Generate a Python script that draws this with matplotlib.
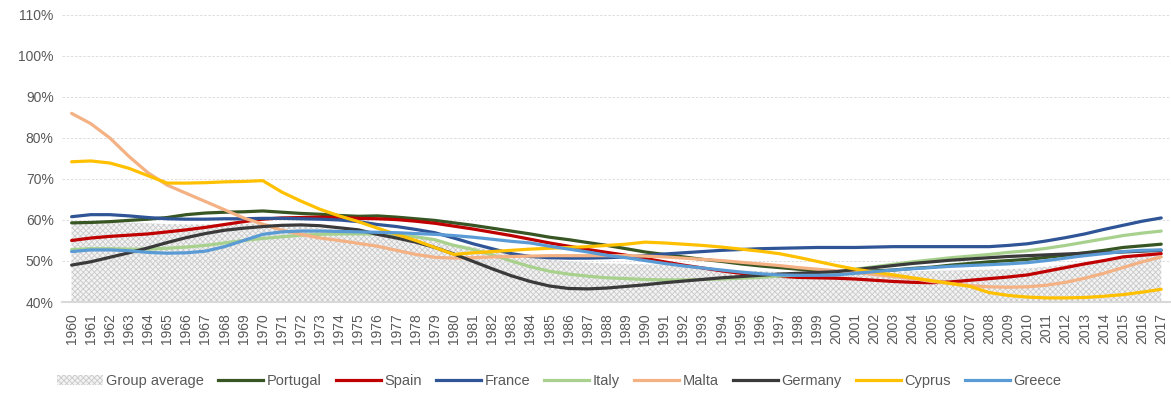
import matplotlib
matplotlib.use("Agg")
import matplotlib.pyplot as plt
from matplotlib.patches import Patch
from matplotlib.lines import Line2D
from matplotlib.ticker import FuncFormatter

plt.rcParams['font.family'] = ['Liberation Sans', 'DejaVu Sans']
plt.rcParams['hatch.linewidth'] = 0.6

years = list(range(1960, 2018))

group_average = [59.5, 59.6, 59.6, 59.4, 59.2, 59.0, 58.9, 58.9, 59.0, 59.1,
                 59.2, 58.8, 58.4, 58.0, 57.6, 57.2, 56.8, 56.3, 55.7, 55.0,
                 54.2, 53.4, 52.6, 51.8, 51.0, 50.4, 49.9, 49.6, 49.4, 49.3,
                 49.2, 49.0, 48.7, 48.4, 48.0, 47.7, 47.5, 47.3, 47.2, 47.1,
                 47.1, 47.2, 47.3, 47.4, 47.5, 47.6, 47.7, 47.8, 47.9, 48.0,
                 48.2, 48.6, 49.1, 49.7, 50.3, 50.9, 51.4, 51.8]

portugal = [59.3, 59.4, 59.6, 59.9, 60.2, 60.6, 61.3, 61.7, 61.9, 62.0,
            62.2, 61.9, 61.6, 61.4, 61.1, 60.9, 61.0, 60.7, 60.3, 59.9,
            59.3, 58.7, 58.0, 57.3, 56.6, 55.8, 55.2, 54.5, 53.8, 53.0,
            52.2, 51.6, 51.0, 50.4, 49.9, 49.3, 48.8, 48.4, 48.0, 47.6,
            47.4, 47.4, 47.6, 47.8, 48.2, 48.5, 49.0, 49.4, 49.8, 50.1,
            50.4, 50.9, 51.4, 52.0, 52.6, 53.3, 53.7, 54.1]

spain = [55.0, 55.6, 56.0, 56.3, 56.6, 57.1, 57.6, 58.2, 58.9, 59.6,
         60.2, 60.5, 60.6, 60.7, 60.6, 60.4, 60.3, 60.1, 59.7, 59.2,
         58.5, 57.8, 57.0, 56.2, 55.3, 54.4, 53.6, 52.8, 52.1, 51.4,
         50.6, 49.8, 49.0, 48.3, 47.6, 47.0, 46.6, 46.3, 46.0, 45.9,
         45.8, 45.6, 45.3, 45.0, 44.8, 44.7, 44.9, 45.3, 45.7, 46.1,
         46.6, 47.5, 48.4, 49.3, 50.1, 51.0, 51.4, 51.8]

france = [60.8, 61.3, 61.3, 61.0, 60.6, 60.3, 60.2, 60.2, 60.3, 60.3,
          60.4, 60.4, 60.3, 60.2, 60.0, 59.6, 58.9, 58.4, 57.7, 56.9,
          55.6, 54.2, 53.0, 51.8, 51.1, 50.8, 50.7, 50.7, 50.8, 51.0,
          51.3, 51.7, 52.0, 52.3, 52.6, 52.8, 53.0, 53.1, 53.2, 53.3,
          53.3, 53.3, 53.4, 53.5, 53.5, 53.5, 53.5, 53.5, 53.5, 53.8,
          54.2, 54.9, 55.7, 56.6, 57.7, 58.7, 59.7, 60.5]

italy = [52.8, 53.0, 53.0, 52.9, 52.9, 53.1, 53.4, 53.8, 54.4, 55.0,
         55.5, 55.9, 56.3, 56.5, 56.6, 56.6, 56.6, 56.4, 55.9, 55.2,
         53.8, 52.8, 51.5, 50.0, 48.6, 47.5, 46.8, 46.3, 45.9, 45.7,
         45.5, 45.4, 45.4, 45.5, 45.6, 45.8, 46.0, 46.3, 46.6, 47.0,
         47.4, 48.0, 48.6, 49.2, 49.8, 50.3, 50.8, 51.2, 51.6, 52.1,
         52.5, 53.1, 53.8, 54.6, 55.4, 56.2, 56.8, 57.3]

malta = [86.0, 83.5, 80.0, 75.5, 71.5, 68.5, 66.5, 64.5, 62.5, 60.5,
         59.0, 57.5, 56.5, 55.6, 55.0, 54.3, 53.6, 52.6, 51.6, 50.9,
         50.7, 50.8, 51.0, 51.1, 51.2, 51.3, 51.3, 51.3, 51.3, 51.3,
         51.2, 51.0, 50.7, 50.4, 50.1, 49.7, 49.3, 48.9, 48.4, 48.0,
         47.6, 47.2, 46.7, 46.2, 45.7, 45.0, 44.5, 44.0, 43.7, 43.6,
         43.7, 44.1, 44.8, 45.8, 47.0, 48.4, 49.8, 51.0]

germany = [49.0, 49.8, 50.9, 52.0, 53.2, 54.5, 55.7, 56.7, 57.5, 58.0,
           58.4, 58.7, 58.8, 58.6, 58.1, 57.6, 56.5, 55.6, 54.6, 53.3,
           51.7, 49.9, 48.1, 46.4, 45.0, 43.9, 43.3, 43.2, 43.4, 43.8,
           44.2, 44.7, 45.1, 45.5, 45.9, 46.2, 46.5, 46.8, 47.0, 47.2,
           47.4, 47.9, 48.4, 48.9, 49.4, 49.8, 50.2, 50.5, 50.8, 51.1,
           51.3, 51.5, 51.7, 51.9, 52.0, 52.2, 52.4, 52.6]

cyprus = [74.2, 74.4, 73.9, 72.6, 70.8, 69.0, 69.0, 69.1, 69.3, 69.4,
          69.6, 66.8, 64.6, 62.6, 61.0, 59.6, 58.0, 56.5, 55.0, 53.3,
          51.6, 52.0, 52.3, 52.6, 52.9, 53.1, 53.3, 53.5, 53.8, 54.1,
          54.6, 54.4, 54.1, 53.8, 53.4, 52.9, 52.4, 51.8, 50.9, 49.9,
          48.9, 48.0, 47.3, 46.6, 45.9, 45.2, 44.5, 43.8, 42.3, 41.6,
          41.2, 41.0, 41.0, 41.1, 41.4, 41.8, 42.4, 43.1]

greece = [52.3, 52.7, 52.7, 52.5, 52.1, 51.9, 52.0, 52.4, 53.5, 55.0,
          56.5, 57.1, 57.3, 57.3, 57.2, 57.1, 57.0, 56.9, 56.7, 56.5,
          56.2, 55.8, 55.3, 54.8, 54.4, 53.6, 52.9, 52.2, 51.4, 50.8,
          50.1, 49.4, 48.8, 48.3, 47.8, 47.3, 46.9, 46.6, 46.5, 46.5,
          46.6, 47.0, 47.4, 47.8, 48.1, 48.4, 48.7, 48.9, 49.1, 49.3,
          49.6, 50.1, 50.7, 51.3, 51.8, 52.3, 52.6, 52.7]

series = [
    ("Portugal", portugal, "#375623"),
    ("Spain", spain, "#c00000"),
    ("France", france, "#2f5597"),
    ("Italy", italy, "#a9d18e"),
    ("Malta", malta, "#f4b183"),
    ("Germany", germany, "#3a3a3a"),
    ("Cyprus", cyprus, "#ffc000"),
    ("Greece", greece, "#5b9bd5"),
]

fig = plt.figure(figsize=(11.71, 3.94), dpi=100)
ax = fig.add_axes([0.053, 0.2335, 0.946, 0.7285])

# group average as a dotted grey area
ax.fill_between(years, 40, group_average, facecolor="#f3f3f3",
                edgecolor="#c9c9c9", hatch="xxxxxx", linewidth=0, zorder=1)

for name, vals, col in series:
    ax.plot(years, vals, color=col, linewidth=2.3, solid_capstyle="round", zorder=3)

ax.set_xlim(1959.5, 2017.45)
ax.set_ylim(40, 110)
ax.set_yticks(range(40, 111, 10))
ax.yaxis.set_major_formatter(FuncFormatter(lambda v, p: "%d%%" % v))
ax.set_xticks(years)
ax.set_xticklabels([str(y) for y in years], rotation=90)
ax.tick_params(axis="both", length=0, labelsize=10, colors="#595959")
ax.tick_params(axis="x", pad=8)
ax.tick_params(axis="y", pad=6)
ax.grid(axis="y", color="#d9d9d9", linestyle=(0, (3, 2)), linewidth=0.6, zorder=0)
for s in ["top", "right", "left"]:
    ax.spines[s].set_visible(False)
ax.spines["bottom"].set_color("#d9d9d9")
ax.spines["bottom"].set_linewidth(1.5)
ax.spines["bottom"].set_zorder(4)

handles = [Patch(facecolor="#f3f3f3", edgecolor="#c9c9c9", hatch="xxxxxx", linewidth=0)]
labels = ["Group average"]
for name, vals, col in series:
    handles.append(Line2D([0], [0], color=col, linewidth=2.3))
    labels.append(name)
leg = fig.legend(handles, labels, loc="center left", bbox_to_anchor=(0.049, 0.033), ncol=9,
                 frameon=False, fontsize=10.5, handlelength=3.1, handletextpad=0.25,
                 columnspacing=0.95, borderaxespad=0, borderpad=0)
for t in leg.get_texts():
    t.set_color("#595959")

fig.savefig("out.png", dpi=100)
